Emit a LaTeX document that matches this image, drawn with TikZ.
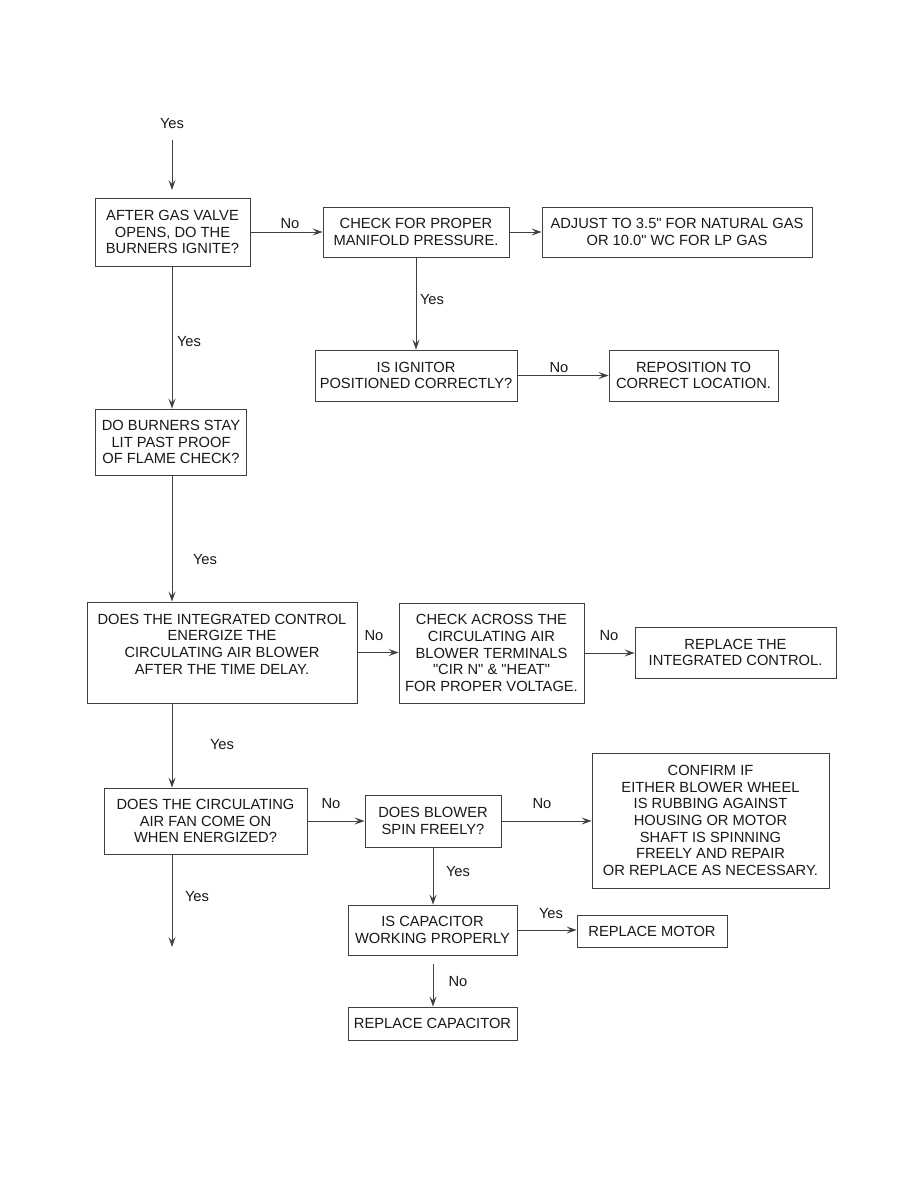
\documentclass[tikz,border=0pt]{standalone}
\usepackage{fontspec}
\setmainfont{Liberation Sans}[Ligatures=TeXOff]
\usetikzlibrary{arrows.meta}
\begin{document}
\begin{tikzpicture}[x=1pt,y=-1pt,
  every node/.style={font=\fontsize{14.7}{16.7}\selectfont, text=black!90},
  box/.style={draw=black!75, line width=0.9pt, rectangle, align=center, inner sep=0pt},
  conn/.style={draw=black!75, line width=0.9pt, -{Stealth[length=10pt,width=7pt,inset=4pt]}},
  lbl/.style={inner sep=0pt}]
\useasboundingbox (0,0) rectangle (918,1188);
\fill[white] (0,0) rectangle (918,1188);

% boxes
\node[box, minimum width=155, minimum height=68] (b1) at (172.5,232) {AFTER GAS VALVE\\OPENS, DO THE\\BURNERS IGNITE?};
\node[box, minimum width=186, minimum height=50] (b2) at (416,232) {CHECK FOR PROPER\\MANIFOLD PRESSURE.};
\node[box, minimum width=270, minimum height=50] (b3) at (677,232) {ADJUST TO 3.5" FOR NATURAL GAS\\OR 10.0" WC FOR LP GAS};
\node[box, minimum width=202, minimum height=51] (b4) at (416,375.5) {IS IGNITOR\\POSITIONED CORRECTLY?};
\node[box, minimum width=169, minimum height=51] (b5) at (693.5,375.5) {REPOSITION TO\\CORRECT LOCATION.};
\node[box, minimum width=151, minimum height=66] (b6) at (171,442) {DO BURNERS STAY\\LIT PAST PROOF\\OF FLAME CHECK?};
\node[box, minimum width=270, minimum height=101] (b7) at (222,652.5) {DOES THE INTEGRATED CONTROL\\ENERGIZE THE\\CIRCULATING AIR BLOWER\\AFTER THE TIME DELAY.\\ \mbox{}};
\node[box, minimum width=185, minimum height=100] (b8) at (491.5,653) {CHECK ACROSS THE\\CIRCULATING AIR\\BLOWER TERMINALS\\"CIR N" \& "HEAT"\\FOR PROPER VOLTAGE.};
\node[box, minimum width=201, minimum height=51] (b9) at (735.5,652.5) {REPLACE THE\\INTEGRATED CONTROL.};
\node[box, minimum width=203, minimum height=66] (b10) at (205.5,821) {DOES THE CIRCULATING\\AIR FAN COME ON\\WHEN ENERGIZED?};
\node[box, minimum width=136, minimum height=52] (b11) at (433,821) {DOES BLOWER\\SPIN FREELY?};
\node[box, minimum width=237, minimum height=135] (b12) at (710.5,820.5) {CONFIRM IF\\EITHER BLOWER WHEEL\\IS RUBBING AGAINST\\HOUSING OR MOTOR\\SHAFT IS SPINNING\\FREELY AND REPAIR\\OR REPLACE AS NECESSARY.};
\node[box, minimum width=169, minimum height=50] (b13) at (432.5,930) {IS CAPACITOR\\WORKING PROPERLY};
\node[box, minimum width=150, minimum height=32] (b14) at (652,931) {REPLACE MOTOR};
\node[box, minimum width=169, minimum height=33] (b15) at (432.5,1023.5) {REPLACE CAPACITOR};

% column coordinates and free ends
\coordinate (colA) at (172,0);
\coordinate (colB) at (433,0);
\coordinate (start) at (172,140);
\coordinate (startend) at (172,190);
\coordinate (endA) at (172,947);

% connectors
\draw[conn] (start) -- (startend);
\draw[conn] (b1.east) -- (b1.east -| b2.west);
\draw[conn] (b2.east) -- (b2.east -| b3.west);
\draw[conn] (b2.south) -- (b4.north);
\draw[conn] (b4.east) -- (b4.east -| b5.west);
\draw[conn] (colA |- b1.south) -- (colA |- b6.north);
\draw[conn] (colA |- b6.south) -- (colA |- b7.north);
\draw[conn] (b7.east) -- (b7.east -| b8.west);
\draw[conn] (b8.east) -- (b8.east -| b9.west);
\draw[conn] (colA |- b7.south) -- (colA |- b10.north);
\draw[conn] (b10.east) -- (b10.east -| b11.west);
\draw[conn] (b11.east) -- (b11.east -| b12.west);
\draw[conn] (colB |- b11.south) -- (colB |- b13.north);
\draw[conn] (b13.east) -- (b13.east -| b14.west);
\draw[conn] ([yshift=-9pt]colB |- b13.south) -- (colB |- b15.north);
\draw[conn] (colA |- b10.south) -- (endA);

% labels
\node[lbl] (l0) at (172,124) {Yes};
\node[lbl] (l1) at (290,224) {No};
\node[lbl] (l2) at (432,300) {Yes};
\node[lbl] (l3) at (559,368) {No};
\node[lbl] (l4) at (189,342) {Yes};
\node[lbl] (l5) at (205,560) {Yes};
\node[lbl] (l6) at (374,636) {No};
\node[lbl] (l7) at (609,636) {No};
\node[lbl] (l8) at (222,745) {Yes};
\node[lbl] (l9) at (331,804) {No};
\node[lbl] (l10) at (542,804) {No};
\node[lbl] (l11) at (458,872) {Yes};
\node[lbl] (l12) at (551,914) {Yes};
\node[lbl] (l13) at (458,982) {No};
\node[lbl] (l14) at (197,897) {Yes};
\end{tikzpicture}
\end{document}
